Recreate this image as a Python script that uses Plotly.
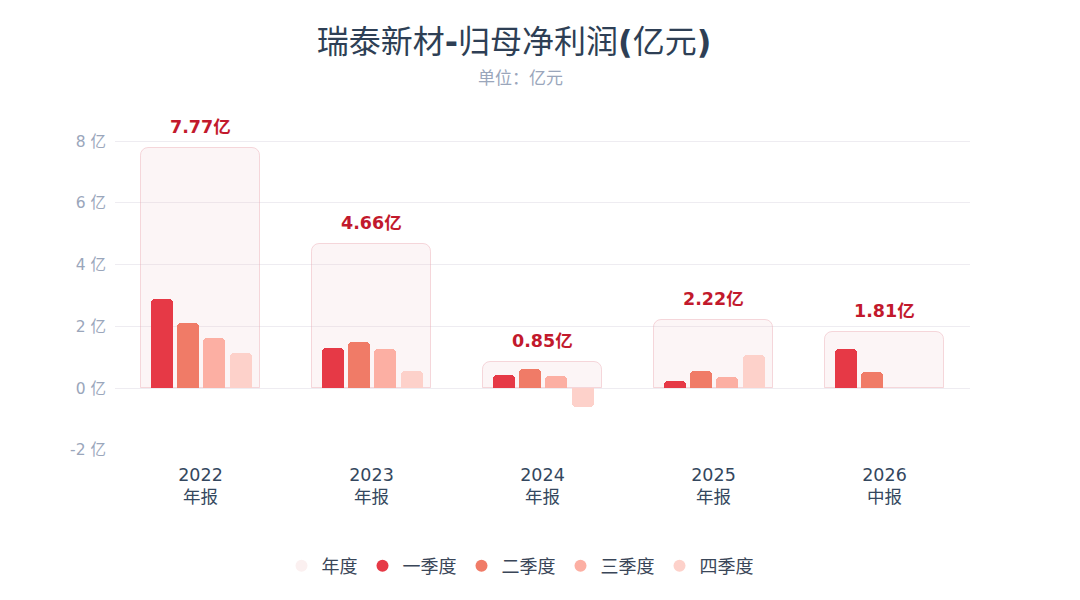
import plotly.graph_objects as go

categories = ["2022<br>年报", "2023<br>年报", "2024<br>年报", "2025<br>年报", "2026<br>中报"]
annual = [7.77, 4.66, 0.85, 2.22, 1.81]
annual_labels = ["7.77亿", "4.66亿", "0.85亿", "2.22亿", "1.81亿"]
q1 = [2.90, 1.31, 0.43, 0.25, 1.27]
q2 = [2.10, 1.50, 0.63, 0.56, 0.54]
q3 = [1.63, 1.28, 0.40, 0.35, None]
q4 = [1.14, 0.57, -0.61, 1.06, None]
series_names = ["一季度", "二季度", "三季度", "四季度"]
series_colors = ["#e63946", "#f07b67", "#fcafa3", "#fdd1ca"]
y_ticks = [-2, 0, 2, 4, 6, 8]
y_ticktext = [f"{v} 亿" for v in y_ticks]

FONT = "DejaVu Sans, Noto Sans CJK SC, sans-serif"

fig = go.Figure()

# annual background box
fig.add_trace(go.Bar(
    x=categories, y=annual, name="年度",
    width=0.695, offset=-0.348,
    marker=dict(color="rgba(240,200,205,0.18)",
                line=dict(color="rgba(235,170,180,0.45)", width=1),
                cornerradius=8),
    showlegend=False, hoverinfo="skip",
))

offsets = [-0.292, -0.138, 0.016, 0.170]
for name, vals, col, off in zip(series_names, [q1, q2, q3, q4], series_colors, offsets):
    fig.add_trace(go.Bar(
        x=categories, y=vals, name=name,
        width=0.13, offset=off,
        marker=dict(color=col, line=dict(width=0), cornerradius=4),
        showlegend=False,
    ))

# legend entries (circles)
legend_colors = ["#fbf0f0"] + series_colors
for name, col in zip(["年度"] + series_names, legend_colors):
    fig.add_trace(go.Scatter(
        x=[None], y=[None], mode="markers", name=name,
        marker=dict(symbol="circle", size=14, color=col),
    ))

for c, v, t in zip(categories, annual, annual_labels):
    fig.add_annotation(
        x=c, y=v, text="<b>" + t + "</b>", showarrow=False,
        yanchor="bottom", yshift=9,
        font=dict(family=FONT, size=17.5, color="#c2192c"),
    )

# plot area (figure coords): x 107..962, y 130..442
fig.add_annotation(
    text="单位：亿元", xref="paper", yref="paper",
    x=(512 - 107) / 855, y=1 + (130 - 68) / 312, showarrow=False, yanchor="middle",
    font=dict(family="Noto Sans CJK SC", size=17, color="#9aa6bb"),
)

fig.update_layout(
    width=1080, height=600,
    barmode="overlay",
    paper_bgcolor="#ffffff", plot_bgcolor="#ffffff",
    margin=dict(l=107, r=118, t=130, b=158),
    title=dict(
        text="瑞泰新材<b>-</b>归母净利润<b>(</b>亿元<b>)</b>",
        x=506 / 1080, xanchor="center", y=1 - 34 / 600, yanchor="middle",
        font=dict(family=FONT, size=32, color="#2e3f55"),
    ),
    legend=dict(
        orientation="h", xref="container", yref="container",
        x=512 / 1080, xanchor="center", y=1 - 558 / 600, yanchor="middle",
        font=dict(family="Noto Sans CJK SC", size=18, color="#3a4658"),
        itemsizing="constant", traceorder="normal",
    ),
    xaxis=dict(
        type="category", showgrid=False, showline=False, zeroline=False,
        tickfont=dict(family=FONT, size=17.5, color="#34475e"),
        ticks="", ticklabelstandoff=12,
    ),
    yaxis=dict(
        range=[-2, 8.1], tickvals=y_ticks, ticktext=y_ticktext,
        showgrid=True, gridcolor="#eeecf1", gridwidth=1,
        zeroline=True, zerolinecolor="#eeecf1", zerolinewidth=1,
        showline=False, ticks="",
        tickfont=dict(family=FONT, size=15.5, color="#9aa6bb"),
        ticklabelstandoff=8,
    ),
    bargap=0,
)

fig.write_html("out.html")
